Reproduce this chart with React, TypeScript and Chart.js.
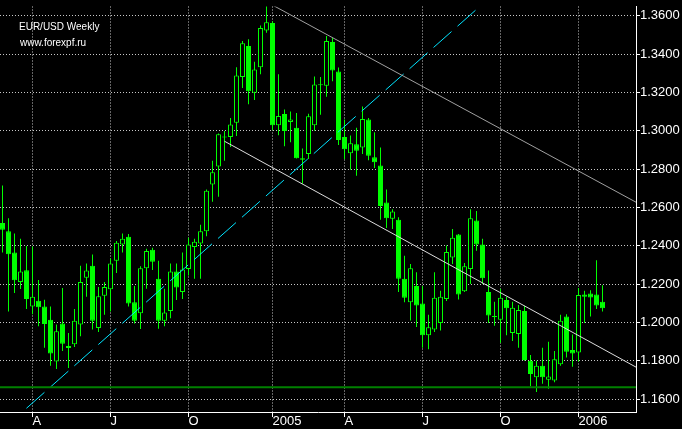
import React, { useEffect, useRef } from 'react';
import { Chart, registerables } from 'chart.js';

Chart.register(...registerables);

// Weekly EUR/USD candles, one entry per week (index 0 = late Feb 2004, index 100 = mid Jan 2006)
const OPEN = [
  1.2519, 1.2476, 1.2365, 1.2211, 1.2272, 1.2083, 1.2113, 1.2083, 1.2014, 1.1797,
  1.1995, 1.1877, 1.1886, 1.1989, 1.2233, 1.2296, 1.1971, 1.2139, 1.2173, 1.2322,
  1.2407, 1.2447, 1.2105, 1.2048, 1.2283, 1.2379, 1.2228, 1.2009, 1.2060, 1.2266,
  1.2159, 1.2279, 1.2394, 1.2412, 1.2476, 1.2720, 1.2813, 1.2964, 1.2967, 1.3041,
  1.3280, 1.3442, 1.3198, 1.3331, 1.3523, 1.3562, 1.3029, 1.3087, 1.3046, 1.3015,
  1.2856, 1.2878, 1.3029, 1.3237, 1.3234, 1.3463, 1.3309, 1.2967, 1.2882, 1.2929,
  1.2912, 1.3058, 1.2861, 1.2818, 1.2626, 1.2541, 1.2536, 1.2228, 1.2105, 1.2190,
  1.2099, 1.1934, 1.1963, 1.1997, 1.2122, 1.2339, 1.2459, 1.2163, 1.2279, 1.2532,
  1.2407, 1.2159, 1.2034, 1.2014, 1.2117, 1.1945, 1.1940, 1.2060, 1.1800, 1.1715,
  1.1775, 1.1701, 1.1697, 1.1782, 1.2031, 1.1857, 1.1843, 1.2146, 1.2151, 1.2146,
  1.2108,
];
const HIGH = [
  1.2714, 1.2544, 1.2464, 1.2437, 1.2399, 1.2396, 1.2222, 1.2118, 1.2083, 1.1989,
  1.2180, 1.1945, 1.2071, 1.2296, 1.2308, 1.2354, 1.2185, 1.2211, 1.2334, 1.2425,
  1.2464, 1.2462, 1.2190, 1.2293, 1.2385, 1.2390, 1.2322, 1.2176, 1.2308, 1.2308,
  1.2365, 1.2442, 1.2437, 1.2510, 1.2693, 1.2844, 1.2986, 1.2998, 1.3066, 1.3331,
  1.3468, 1.3477, 1.3360, 1.3549, 1.3667, 1.3571, 1.3294, 1.3111, 1.3100, 1.3092,
  1.2907, 1.3088, 1.3283, 1.3280, 1.3494, 1.3485, 1.3330, 1.3058, 1.2975, 1.3015,
  1.3126, 1.3066, 1.2992, 1.2912, 1.2693, 1.2591, 1.2549, 1.2348, 1.2305, 1.2262,
  1.2190, 1.2040, 1.2262, 1.2165, 1.2402, 1.2488, 1.2462, 1.2310, 1.2591, 1.2582,
  1.2437, 1.2271, 1.2108, 1.2176, 1.2134, 1.2108, 1.2091, 1.2087, 1.1831, 1.1800,
  1.1868, 1.1899, 1.1851, 1.2040, 1.2043, 1.1937, 1.2180, 1.2165, 1.2168, 1.2324,
  1.2194,
];
const LOW = [
  1.2365, 1.2057, 1.2154, 1.2175, 1.2071, 1.2043, 1.1980, 1.1868, 1.1775, 1.1758,
  1.1851, 1.1763, 1.1872, 1.1928, 1.2134, 1.1963, 1.1951, 1.2041, 1.2057, 1.2258,
  1.2365, 1.2083, 1.1995, 1.1966, 1.2176, 1.2274, 1.1968, 1.1980, 1.2022, 1.2117,
  1.2122, 1.2245, 1.2228, 1.2228, 1.2450, 1.2630, 1.2656, 1.2844, 1.2915, 1.2972,
  1.3223, 1.3138, 1.3160, 1.3294, 1.3511, 1.3003, 1.2976, 1.2919, 1.2940, 1.2855,
  1.2724, 1.2852, 1.3000, 1.3083, 1.3177, 1.3258, 1.2926, 1.2852, 1.2797, 1.2765,
  1.2878, 1.2846, 1.2806, 1.2536, 1.2493, 1.2488, 1.2159, 1.2105, 1.2011, 1.1976,
  1.1868, 1.1860, 1.1951, 1.1958, 1.2112, 1.2305, 1.2120, 1.2159, 1.2201, 1.2374,
  1.2201, 1.1997, 1.1983, 1.1894, 1.1934, 1.1903, 1.1868, 1.1800, 1.1667, 1.1638,
  1.1681, 1.1655, 1.1689, 1.1775, 1.1817, 1.1769, 1.1797, 1.1997, 1.2031, 1.2071,
  1.2057,
];
const CLOSE = [
  1.2484, 1.2356, 1.2220, 1.2266, 1.2122, 1.2134, 1.2079, 1.1992, 1.1838, 1.1954,
  1.1889, 1.1867, 1.2009, 1.2211, 1.2271, 1.2009, 1.2137, 1.2185, 1.2308, 1.2416,
  1.2437, 1.2099, 1.2009, 1.2283, 1.2373, 1.2317, 1.2009, 1.2052, 1.2266, 1.2182,
  1.2276, 1.2407, 1.2421, 1.2476, 1.2687, 1.2784, 1.2981, 1.2969, 1.3032, 1.3288,
  1.3456, 1.3206, 1.3319, 1.3535, 1.3566, 1.3029, 1.3077, 1.2999, 1.3058, 1.2857,
  1.2849, 1.3075, 1.3241, 1.3242, 1.3468, 1.3314, 1.2951, 1.2904, 1.2934, 1.2895,
  1.3061, 1.2869, 1.2835, 1.2607, 1.2544, 1.2579, 1.2228, 1.2129, 1.2283, 1.2088,
  1.1934, 1.1975, 1.2129, 1.2134, 1.2368, 1.2442, 1.2146, 1.2293, 1.2544, 1.2407,
  1.2231, 1.2036, 1.2029, 1.2129, 1.2074, 1.2077, 1.2065, 1.1804, 1.1732, 1.1775,
  1.1715, 1.1718, 1.1809, 1.2009, 1.1848, 1.1838, 1.2143, 1.2134, 1.2130, 1.2088,
  1.2074,
];

// Time axis: week index of each month mark, and its label
const X_TICK_WEEKS = [5, 18, 31, 45, 57, 70, 83, 96];
const X_TICK_LABELS = ['A', 'J', 'O', '2005', 'A', 'J', 'O', '2006'];

// Price axis ticks
const Y_TICKS = [1.16, 1.18, 1.2, 1.22, 1.24, 1.26, 1.28, 1.3, 1.32, 1.34, 1.36];

// Visible ranges
const X_MIN = -0.4167;
const X_MAX = 105.583;
const Y_MIN = 1.15333;
const Y_MAX = 1.36477;

// Drawn objects (week index, price)
const UPPER_TREND_X = [44, 105.6];
const UPPER_TREND_Y = [1.3672, 1.2627];
const LOWER_TREND_X = [37, 105.6];
const LOWER_TREND_Y = [1.2945, 1.1767];
const CYAN_TREND_X = [0, 85];
const CYAN_TREND_Y = [1.1442, 1.3799];
const SUPPORT_LEVEL = 1.1662;

const TITLE = 'EUR/USD Weekly';
const SUBTITLE = 'www.forexpf.ru';

const GREEN = '#00ff00';
const FONT = '"Liberation Sans", Arial, sans-serif';

export default function App() {
  const canvasRef = useRef<HTMLCanvasElement | null>(null);

  useEffect(() => {
    document.body.style.margin = '0';
    document.body.style.background = '#000';
    const canvas = canvasRef.current;
    if (!canvas) return;

    const idx = OPEN.map((_, i) => i);
    const wickData = idx.map((i) => ({ x: i, y: [LOW[i], HIGH[i]] }));
    const bodyData = idx.map((i) => ({ x: i, y: [OPEN[i], CLOSE[i]] }));
    const bodyFill = idx.map((i) => (CLOSE[i] < OPEN[i] ? GREEN : '#000000'));
    const pts = (xs: number[], ys: number[]) => xs.map((x, i) => ({ x, y: ys[i] }));

    const lineDs = (data: any[], color: string, width: number, dash: number[] = []) => ({
      type: 'line' as const,
      data,
      borderColor: color,
      borderWidth: width,
      borderDash: dash,
      pointRadius: 0,
      pointHoverRadius: 0,
      fill: false,
      tension: 0,
      order: 1,
    });

    const chart = new Chart(canvas, {
      type: 'bar',
      data: {
        datasets: [
          {
            type: 'bar',
            data: wickData as any,
            backgroundColor: GREEN,
            borderWidth: 0,
            barThickness: 1,
            grouped: false,
            inflateAmount: 0,
            borderSkipped: false,
            order: 3,
          } as any,
          {
            type: 'bar',
            data: bodyData as any,
            backgroundColor: bodyFill,
            borderColor: GREEN,
            borderWidth: 1,
            barThickness: 5,
            grouped: false,
            inflateAmount: 0,
            borderSkipped: false,
            minBarLength: 1,
            order: 2,
          } as any,
          lineDs(pts([X_MIN, X_MAX], [SUPPORT_LEVEL, SUPPORT_LEVEL]), '#008000', 2),
          lineDs(pts(UPPER_TREND_X, UPPER_TREND_Y), '#a0a0a0', 1),
          lineDs(pts(LOWER_TREND_X, LOWER_TREND_Y), '#dcdcdc', 1),
          lineDs(pts(CYAN_TREND_X, CYAN_TREND_Y), '#00e4ff', 1, [24, 8]),
        ] as any,
      },
      options: {
        responsive: false,
        maintainAspectRatio: false,
        devicePixelRatio: 1,
        animation: false,
        events: [],
        layout: { padding: 0 },
        plugins: {
          legend: { display: false },
          tooltip: { enabled: false },
          title: { display: false },
        },
        scales: {
          x: {
            type: 'linear',
            min: X_MIN,
            max: X_MAX,
            offset: false,
            afterBuildTicks: (axis: any) => {
              axis.ticks = X_TICK_WEEKS.map((v) => ({ value: v }));
            },
            afterFit: (axis: any) => {
              axis.height = 17;
            },
            grid: {
              offset: false,
              color: '#c8c8c8',
              lineWidth: 1,
              drawTicks: true,
              tickLength: 5,
              tickColor: '#ffffff',
              tickBorderDash: [],
            },
            border: { display: true, color: '#ffffff', width: 1, dash: [1, 2] },
            ticks: {
              autoSkip: false,
              maxRotation: 0,
              minRotation: 0,
              align: 'start',
              padding: -2,
              color: '#ffffff',
              font: { family: FONT, size: 13, lineHeight: 1 },
              callback: (v: any) => {
                const i = X_TICK_WEEKS.indexOf(Number(v));
                return i >= 0 ? X_TICK_LABELS[i] : '';
              },
            },
          },
          y: {
            type: 'linear',
            position: 'right',
            min: Y_MIN,
            max: Y_MAX,
            beginAtZero: false,
            afterBuildTicks: (axis: any) => {
              axis.ticks = Y_TICKS.map((v) => ({ value: v }));
            },
            afterFit: (axis: any) => {
              axis.width = 46;
            },
            grid: {
              color: '#c8c8c8',
              lineWidth: 1,
              drawTicks: true,
              tickLength: 4,
              tickColor: '#ffffff',
              tickBorderDash: [],
            },
            border: { display: true, color: '#ffffff', width: 1, dash: [1, 2] },
            ticks: {
              padding: 0,
              color: '#ffffff',
              font: { family: FONT, size: 13, lineHeight: 1 },
              callback: (v: any) => Number(v).toFixed(4),
            },
          },
        },
      } as any,
    });

    return () => {
      chart.destroy();
    };
  }, []);

  const textStyle: React.CSSProperties = {
    position: 'absolute',
    left: 19,
    color: '#ffffff',
    fontFamily: FONT,
    fontSize: 10,
    lineHeight: '10px',
    whiteSpace: 'nowrap',
  };

  return (
    <div style={{ position: 'relative', width: 682, height: 429, background: '#000000', overflow: 'hidden' }}>
      <style>{'body{margin:0;background:#000;}'}</style>
      <canvas ref={canvasRef} width={682} height={429} style={{ display: 'block', width: 682, height: 429 }} />
      <div style={{ ...textStyle, top: 21.5 }}>{TITLE}</div>
      <div style={{ ...textStyle, top: 37.5, left: 20 }}>{SUBTITLE}</div>
    </div>
  );
}
